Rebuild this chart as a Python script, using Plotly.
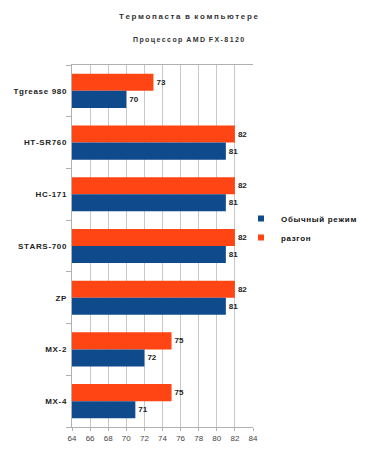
import plotly.graph_objects as go

categories = ["Tgrease 980", "HT-SR760", "HC-171", "STARS-700", "ZP", "MX-2", "MX-4"]
normal = [70, 81, 81, 81, 81, 72, 71]
overclock = [73, 82, 82, 82, 82, 75, 75]
x_ticks = [64, 66, 68, 70, 72, 74, 76, 78, 80, 82, 84]

FONT = "Liberation Sans, Arial, sans-serif"
BLUE = "#0f4a8c"
ORANGE = "#ff4514"
TS = "\u2009"
HS = "\u200a"

# the page body has an 8px margin, so the figure is 8px smaller and shifted
W, H = 369, 448
L, T, B = 64, 57, 29
R = W - 245
PW, PH = W - L - R, H - T - B


def spaced(s, sep=TS):
    return sep.join(s)


fig = go.Figure()
fig.add_trace(go.Bar(
    y=categories, x=overclock, orientation="h", name="разгон",
    marker=dict(color=ORANGE, line=dict(width=0)),
    text=[f"<b>{v}</b>" for v in overclock], textposition="outside", cliponaxis=False,
    textfont=dict(size=8, color="#222", family=FONT), showlegend=False,
))
fig.add_trace(go.Bar(
    y=categories, x=normal, orientation="h", name="Обычный режим",
    marker=dict(color=BLUE, line=dict(width=0)),
    text=[f"<b>{v}</b>" for v in normal], textposition="outside", cliponaxis=False,
    textfont=dict(size=8, color="#222", family=FONT), showlegend=False,
))
# legend entries (small square keys)
fig.add_trace(go.Scatter(x=[None], y=[None], mode="markers", name="<b>" + spaced("Обычный режим", HS) + "</b>",
                         marker=dict(symbol="square", size=6, color=BLUE), legendrank=1))
fig.add_trace(go.Scatter(x=[None], y=[None], mode="markers", name="<b>" + spaced("разгон", HS) + "</b>",
                         marker=dict(symbol="square", size=6, color=ORANGE), legendrank=2))

fig.update_layout(
    width=W, height=H,
    margin=dict(l=L, r=R, t=T, b=B, autoexpand=False),
    paper_bgcolor="white", plot_bgcolor="white",
    barmode="group", bargap=0.34, bargroupgap=0,
    font=dict(family=FONT, size=8, color="#222"),
    showlegend=True,
    legend=dict(x=(233 - L) / PW, y=(H - B - 220) / PH, xanchor="left", yanchor="middle",
                font=dict(size=8, color="#111"), itemwidth=30,
                tracegroupgap=0, bgcolor="rgba(0,0,0,0)"),
)
fig.add_annotation(text="<b>" + spaced("Термопаста") + "  " + spaced("в") + "  " + spaced("компьютере") + "</b>",
                   xref="paper", yref="paper",
                   x=(180 - L) / PW, y=(H - B - 9) / PH, showarrow=False,
                   font=dict(size=8, color="#333"), xanchor="center", yanchor="middle")
fig.add_annotation(text="<b>" + spaced("Процессор") + "  " + spaced("AMD") + "  " + spaced("FX-8120") + "</b>",
                   xref="paper", yref="paper",
                   x=(180 - L) / PW, y=(H - B - 32) / PH, showarrow=False,
                   font=dict(size=7, color="#333"), xanchor="center", yanchor="middle")

fig.update_xaxes(range=[64, 84], tickvals=x_ticks, ticktext=[str(v) for v in x_ticks],
                 showgrid=True, gridcolor="#c8c8c8", gridwidth=1,
                 showline=True, linecolor="#b0b0b0", mirror=True,
                 ticks="outside", ticklen=3, tickcolor="#b0b0b0", automargin=False,
                 tickfont=dict(size=8, color="#444"), zeroline=False, fixedrange=True)
fig.update_yaxes(autorange="reversed", showgrid=False, automargin=False,
                 showline=True, linecolor="#b0b0b0",
                 ticks="outside", ticklen=5, tickcolor="#b0b0b0", tickson="boundaries",
                 ticklabelstandoff=3,
                 tickvals=categories, ticktext=["<b>" + spaced(c, HS) + "</b>" for c in categories],
                 tickfont=dict(size=8, color="#222"), fixedrange=True)

fig.write_html("out.html")
